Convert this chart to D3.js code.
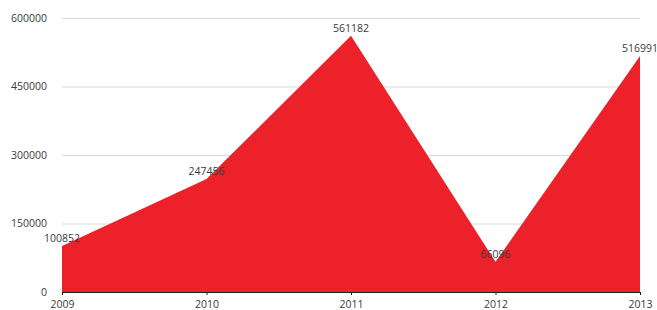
<!DOCTYPE html>
<html>
<head>
<meta charset="utf-8">
<script src="https://cdn.jsdelivr.net/npm/d3@7"></script>
<style>
  body { margin: 0; background: #fff; }
  text { font-family: "Open Sans", sans-serif; font-size: 10.5px; fill: #3a3a3a; }
  .grid line { stroke: #d9d9d9; }
  .grid .domain { display: none; }
</style>
</head>
<body>
<div id="chart"></div>
<script>
const years = ['2009', '2010', '2011', '2012', '2013'];
const values = [100852, 247456, 561182, 66096, 516991];
const yTicks = [0, 150000, 300000, 450000, 600000];

const width = 657, height = 310;
const margin = {left: 62, top: 18, right: 17, bottom: 18};
const w = width - margin.left - margin.right,
      h = height - margin.top - margin.bottom;

const x = d3.scalePoint().domain(years).range([0, w]);
const y = d3.scaleLinear().domain([0, 600000]).range([h, 0]);

const svg = d3.select('#chart').append('svg').attr('width', width).attr('height', height);
const g = svg.append('g').attr('transform', 'translate(' + margin.left + ',' + margin.top + ')');

// grid lines
g.append('g').attr('class', 'grid')
    .call(d3.axisLeft(y).tickValues(yTicks).tickSize(-w).tickFormat(''));

const area = d3.area()
    .x((d, i) => x(years[i]))
    .y0(h)
    .y1(d => y(d));

g.append('path').attr('d', area(values)).attr('fill', '#ed2129');

// y labels
g.append('g').selectAll('text').data(yTicks).join('text')
    .attr('x', -15).attr('y', d => y(d)).attr('dy', '0.35em')
    .attr('text-anchor', 'end').text(d => d);

// x axis
const xg = g.append('g').attr('transform', 'translate(0,' + h + ')')
    .call(d3.axisBottom(x).tickSize(3).tickPadding(6));
xg.select('.domain').attr('stroke', '#222').attr('stroke-width', 1);
xg.selectAll('line').attr('stroke', '#222');
xg.selectAll('text').style('font-family', '"Open Sans", sans-serif').style('font-size', '10.5px').attr('fill', '#3a3a3a');

// value labels
g.append('g').selectAll('text').data(values).join('text')
    .attr('x', (d, i) => x(years[i])).attr('y', d => y(d) - 4)
    .attr('text-anchor', 'middle').text(d => d);
</script>
</body>
</html>
